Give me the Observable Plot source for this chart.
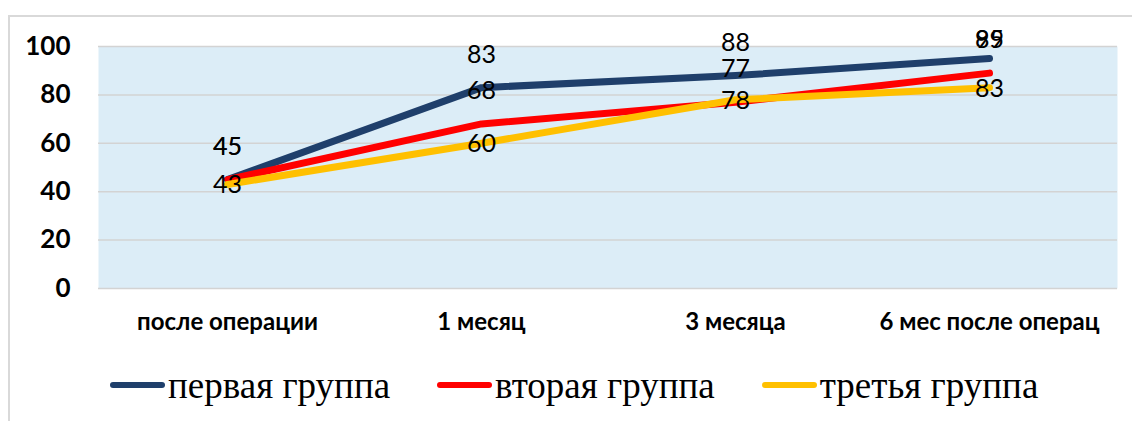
<!DOCTYPE html>
<html>
<head>
<meta charset="utf-8">
<script src="https://cdn.jsdelivr.net/npm/d3@7"></script>
<script src="https://cdn.jsdelivr.net/npm/@observablehq/plot@0.6"></script>
<style>
  body { margin: 0; background: #fff; }
  #wrap { position: relative; width: 1132px; height: 421px; overflow: hidden; background: #fff; }
  #border { position: absolute; left: 8px; top: 15px; width: 1140px; height: 420px; border: 2px solid #d9d9d9; box-sizing: border-box; }
  #chart { position: absolute; left: 0; top: 0; }
  #legend { position: absolute; left: 110px; top: 362px; height: 46px; display: flex; align-items: center; font-family: "Liberation Serif", "Times New Roman", serif; font-size: 37px; color: #000; white-space: nowrap; }
  .item { display: flex; align-items: center; }
  .sw { width: 55px; height: 6px; border-radius: 3px; margin-right: 3px; }
</style>
</head>
<body>
<div id="wrap">
  <div id="border"></div>
  <div id="chart"></div>
  <div id="legend"></div>
</div>
<script>
const categories = ["после операции", "1 месяц", "3 месяца", "6 мес после операц"];
const seriesNames = ["первая группа", "вторая группа", "третья группа"];
const firstGroup = [45, 83, 88, 95];
const secondGroup = [45, 68, 77, 89];
const thirdGroup = [43, 60, 78, 83];
const yTicks = [0, 20, 40, 60, 80, 100];
const colors = ["#1F3F6B", "#FF0000", "#FFC000"];

const allValues = [firstGroup, secondGroup, thirdGroup];
const data = [];
allValues.forEach((vals, si) => {
  vals.forEach((v, ci) => data.push({series: seriesNames[si], si, cat: categories[ci], value: v}));
});

const labelY = d => d.si === 2 ? d.value : Math.min(d.value + 14, 103.3);

const chart = Plot.plot({
  width: 1132,
  height: 340,
  marginLeft: 98,
  marginRight: 15,
  marginTop: 46,
  marginBottom: 52,
  style: {background: "transparent", overflow: "visible"},
  x: {type: "point", domain: categories, padding: 0.5, label: null},
  y: {domain: [0, 100], label: null},
  color: {domain: seriesNames, range: colors},
  marks: [
    Plot.frame({fill: "#DCEDF7", stroke: null}),
    Plot.ruleY(yTicks, {stroke: "#d3d3d3", strokeWidth: 1.5}),
    Plot.lineY(data, {x: "cat", y: "value", z: "series", stroke: "series", strokeWidth: 7, strokeLinejoin: "round", strokeLinecap: "round"}),
    Plot.text(data, {x: "cat", y: labelY, text: d => String(d.value), fontSize: 25, fontFamily: "Lato, sans-serif", fill: "#000", dy: 1}),
    Plot.axisY({ticks: yTicks, tickSize: 0, tickPadding: 28, fontSize: 26, fontWeight: "bold", fontFamily: "Lato, sans-serif", fill: "#000", label: null}),
    Plot.axisX({tickSize: 0, tickPadding: 24, fontSize: 24, fontWeight: "bold", fontFamily: "Lato, sans-serif", fill: "#000", label: null})
  ]
});
document.getElementById("chart").appendChild(chart);

const legend = document.getElementById("legend");
seriesNames.forEach((name, i) => {
  const item = document.createElement("div");
  item.className = "item";
  item.style.marginRight = "47px";
  const sw = document.createElement("div");
  sw.className = "sw";
  sw.style.background = colors[i];
  const t = document.createElement("span");
  t.textContent = name;
  item.appendChild(sw);
  item.appendChild(t);
  legend.appendChild(item);
});
</script>
</body>
</html>
